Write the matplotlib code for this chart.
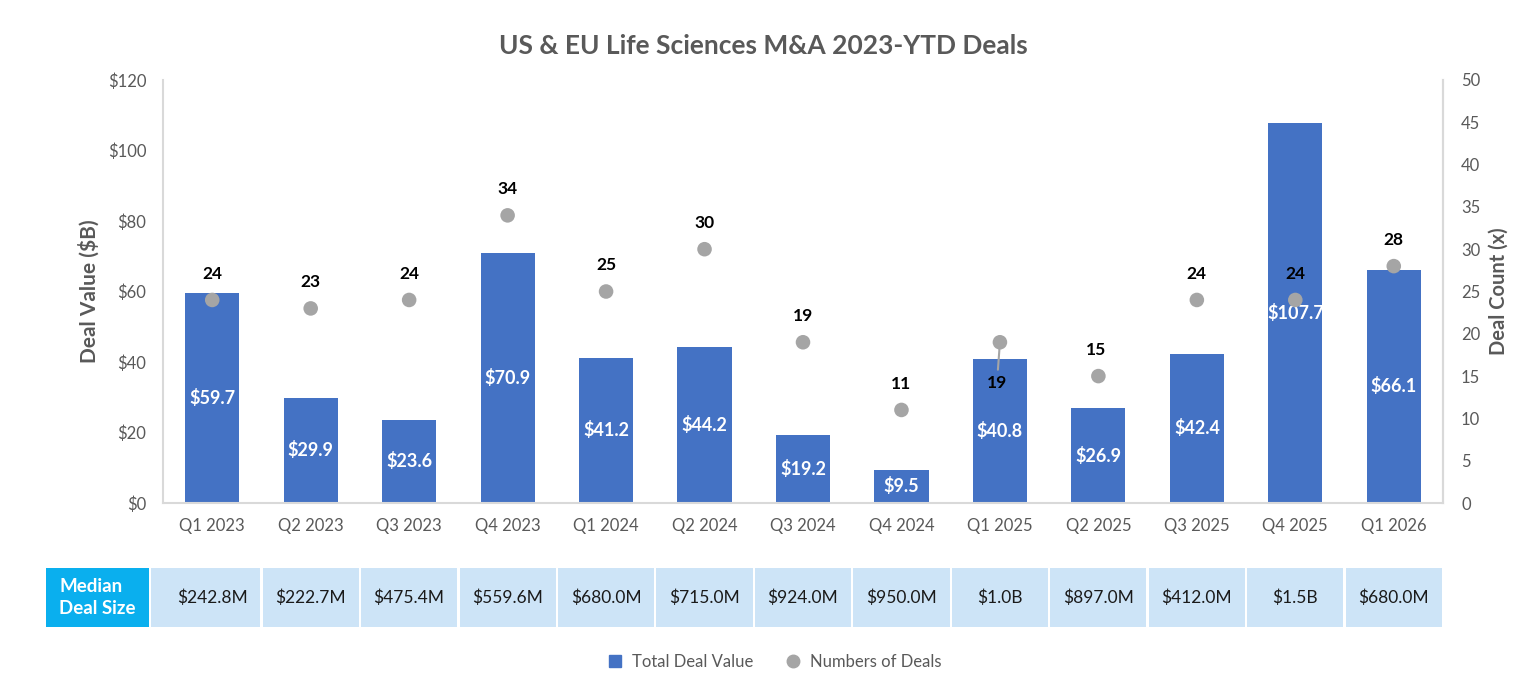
import matplotlib
matplotlib.use("Agg")
import matplotlib.pyplot as plt
from matplotlib.patches import Rectangle
from matplotlib.lines import Line2D
import numpy as np

plt.rcParams['font.family'] = ['Lato', 'DejaVu Sans']

quarters = ["Q1 2023", "Q2 2023", "Q3 2023", "Q4 2023", "Q1 2024", "Q2 2024", "Q3 2024",
            "Q4 2024", "Q1 2025", "Q2 2025", "Q3 2025", "Q4 2025", "Q1 2026"]
deal_value = [59.7, 29.9, 23.6, 70.9, 41.2, 44.2, 19.2, 9.5, 40.8, 26.9, 42.4, 107.7, 66.1]
deal_count = [24, 23, 24, 34, 25, 30, 19, 11, 19, 15, 24, 24, 28]
median_size = ["$242.8M", "$222.7M", "$475.4M", "$559.6M", "$680.0M", "$715.0M", "$924.0M",
               "$950.0M", "$1.0B", "$897.0M", "$412.0M", "$1.5B", "$680.0M"]
value_ticks = [0, 20, 40, 60, 80, 100, 120]
count_ticks = [0, 5, 10, 15, 20, 25, 30, 35, 40, 45, 50]

W, H = 1526, 688
fig = plt.figure(figsize=(W / 100, H / 100), dpi=100)
fig.patch.set_facecolor("white")

def px_axes(x0, y0, x1, y1):
    return fig.add_axes([x0 / W, 1 - y1 / H, (x1 - x0) / W, (y1 - y0) / H])

GRAY = "#595959"
BAR = "#4472C4"
DOT = "#A5A5A5"
SPINE = "#D9D9D9"

ax = px_axes(163, 80, 1443, 503)
x = np.arange(len(quarters))
ax.bar(x, deal_value, width=0.55, color=BAR, zorder=2)
ax.set_xlim(-0.5, len(quarters) - 0.5)
ax.set_ylim(0, 120)
ax.set_yticks(value_ticks)
ax.set_yticklabels([f"${v}" for v in value_ticks])
ax.set_xticks(x)
ax.set_xticklabels(quarters)
ax.tick_params(axis='y', length=0, pad=12, labelsize=12, labelcolor=GRAY)
ax.tick_params(axis='x', length=0, pad=11, labelsize=12, labelcolor=GRAY)
ax.spines["top"].set_visible(False)
for s in ["left", "right", "bottom"]:
    ax.spines[s].set_color(SPINE)
    ax.spines[s].set_linewidth(1.5)
ax.set_ylabel("Deal Value ($B)", fontsize=15, fontweight='bold', color=GRAY, labelpad=6)

for xi, v in zip(x, deal_value):
    ax.text(xi, v / 2, f"${v:.1f}", ha='center', va='center', color='white',
            fontsize=13, fontweight='bold', zorder=3)

ax2 = ax.twinx()
ax2.set_ylim(0, 50)
ax2.set_yticks(count_ticks)
ax2.tick_params(axis='y', length=0, pad=13, labelsize=12, labelcolor=GRAY)
for s in ["top", "left", "bottom"]:
    ax2.spines[s].set_visible(False)
ax2.spines["right"].set_color(SPINE)
ax2.spines["right"].set_linewidth(1.5)
ax2.set_ylabel("Deal Count (x)", fontsize=14.5, fontweight='bold', color=GRAY, labelpad=6)
ax2.scatter(x, deal_count, s=110, color=DOT, zorder=4, edgecolor='none')

for i, (xi, c) in enumerate(zip(x, deal_count)):
    if quarters[i] == "Q1 2025":
        ax2.annotate(str(c), (xi, c), xytext=(-3, -41), textcoords='offset pixels',
                     ha='center', va='center', fontsize=12.5, fontweight='bold', color='black',
                     arrowprops=dict(arrowstyle='-', color=DOT, lw=1.5, shrinkA=2, shrinkB=2))
    elif quarters[i] == "Q2 2025":
        ax2.annotate(str(c), (xi, c), xytext=(-2, 26), textcoords='offset pixels',
                     ha='center', va='center', fontsize=12.5, fontweight='bold', color='black',
                     arrowprops=dict(arrowstyle='-', color=DOT, lw=1.5, shrinkA=9, shrinkB=2))
    else:
        ax2.annotate(str(c), (xi, c), xytext=(0, 26), textcoords='offset pixels',
                     ha='center', va='center', fontsize=12.5, fontweight='bold', color='black')

fig.text(763 / W, 1 - 46 / H, "US & EU Life Sciences M&A 2023-YTD Deals", ha='center', va='center',
         fontsize=19, fontweight='bold', color=GRAY)

# Median deal size table
cw = 1280 / len(quarters)
xl = -0.5 + (46 - 163) / cw
tax = px_axes(46, 568, 1443, 627)
tax.set_xlim(xl, len(quarters) - 0.5)
tax.set_ylim(0, 1)
tax.axis('off')
hx1 = -0.5 + (149 - 163) / cw
tax.add_patch(Rectangle((xl, 0), hx1 - xl, 1, color="#0AAFEE", lw=0))
tax.text(xl + 13 / cw, 0.5, "Median\nDeal Size", ha='left', va='center', color='white',
         fontsize=13.5, fontweight='bold', linespacing=1.35)
g = 0.012
c0 = -0.5 + (151 - 163) / cw
for i, lab in enumerate(median_size):
    left = c0 if i == 0 else i - 0.5 + g
    tax.add_patch(Rectangle((left, 0), (i + 0.5 - g) - left, 1, color="#CDE4F7", lw=0))
    tax.text(i, 0.5, lab, ha='center', va='center', color="#1A1A1A", fontsize=12.5)

handles = [Line2D([], [], marker='s', linestyle='none', color=BAR, markersize=8),
           Line2D([], [], marker='o', linestyle='none', color=DOT, markersize=9)]
fig.legend(handles, ["Total Deal Value", "Numbers of Deals"], loc='center',
           bbox_to_anchor=(770 / W, 1 - 662 / H), ncol=2, frameon=False, fontsize=12,
           labelcolor=GRAY, handletextpad=0.0, columnspacing=1.4)

fig.savefig("out.png", dpi=100)
